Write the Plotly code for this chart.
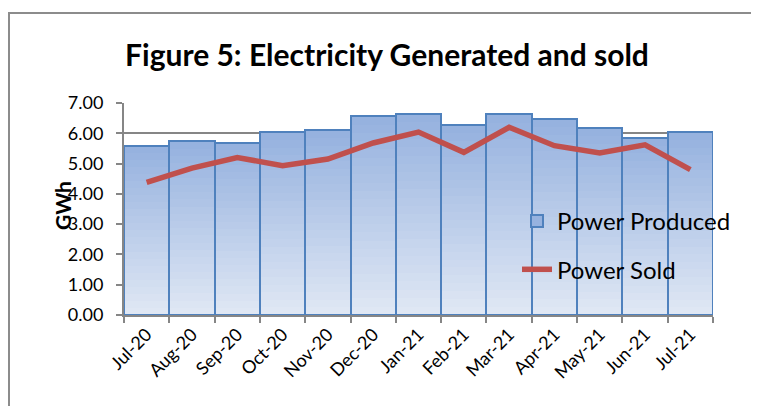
import plotly.graph_objects as go

months = ["Jul-20", "Aug-20", "Sep-20", "Oct-20", "Nov-20", "Dec-20", "Jan-21",
          "Feb-21", "Mar-21", "Apr-21", "May-21", "Jun-21", "Jul-21"]
power_produced = [5.59, 5.73, 5.67, 6.03, 6.10, 6.56, 6.65, 6.28, 6.63, 6.48, 6.16, 5.83, 6.03]
power_sold = [4.38, 4.85, 5.20, 4.93, 5.15, 5.68, 6.04, 5.37, 6.20, 5.59, 5.35, 5.62, 4.80]
y_ticks = [0, 1, 2, 3, 4, 5, 6, 7]

W, H = 759, 406
O = 8  # page body margin
# plot area in page pixels: x 124..713, y 103..315
L = 124 - O
T = 103 - O
R = W - (713 - O)
B = H - (315 - O)
pw = W - L - R
ph = H - T - B


def px(x):
    return (x - O - L) / pw


def py(y):
    return (H - B - (y - O)) / ph


top_c = (150, 178, 223)
bot_c = (223, 231, 244)
N = 24

fig = go.Figure()
for k in range(N):
    f = 1 - k / N
    t = k / (N - 1)
    c = tuple(round(top_c[i] + (bot_c[i] - top_c[i]) * t) for i in range(3))
    fig.add_trace(go.Bar(
        x=months, y=[v * f for v in power_produced],
        marker=dict(color="rgb(%d,%d,%d)" % c,
                    line=dict(width=2 if k == 0 else 0, color="#4F81BD")),
        name="Power Produced", showlegend=(k == 0), legendgroup="a",
        hoverinfo="skip" if k else None,
    ))
fig.add_trace(go.Bar(
    x=months, y=power_produced,
    marker=dict(color="rgba(0,0,0,0)", line=dict(width=2, color="#4F81BD")),
    showlegend=False, hoverinfo="skip",
))
fig.add_trace(go.Scatter(
    x=months, y=power_sold, mode="lines", name="Power Sold", legendgroup="b",
    line=dict(color="#C0504D", width=5.5),
))

fig.add_shape(type="rect", xref="paper", yref="paper",
              x0=px(9), x1=px(W + 30), y0=py(H + 30), y1=py(13),
              line=dict(color="#8C8C8C", width=2), layer="below")

fig.add_annotation(text="<b>GWh</b>", textangle=-90, showarrow=False,
                   xref="paper", yref="paper", x=px(62), y=py(206),
                   xanchor="center", yanchor="middle",
                   font=dict(size=21, color="black"))

fig.update_layout(
    width=W, height=H,
    margin=dict(l=L, r=R, t=T, b=B, autoexpand=False),
    paper_bgcolor="white", plot_bgcolor="white",
    barmode="overlay", bargap=0,
    font=dict(family="Lato, Carlito, sans-serif", color="black"),
    title=dict(text="<b>Figure 5: Electricity Generated and sold</b>",
               x=(387 - O) / W, xanchor="center", y=1 - (55 - O) / H, yanchor="middle",
               font=dict(size=30, family="Lato, sans-serif", color="black")),
    legend=dict(x=px(517), xanchor="left", y=py(199), yanchor="top",
                bgcolor="rgba(0,0,0,0)", font=dict(size=24), tracegroupgap=14,
                traceorder="grouped"),
    showlegend=True,
)
fig.update_xaxes(type="category", tickangle=-45, tickfont=dict(size=18),
                 showline=True, linecolor="#868686", linewidth=2,
                 ticks="outside", ticklen=6, tickcolor="#868686", tickwidth=2,
                 tickson="boundaries", showgrid=False, range=[-0.5, 12.5],
                 automargin=False)
fig.update_yaxes(range=[0, 7], tickvals=y_ticks, ticktext=["%.2f" % v for v in y_ticks],
                 tickfont=dict(size=18), showgrid=True, gridcolor="#868686", gridwidth=2,
                 showline=True, linecolor="#868686", linewidth=2,
                 ticks="outside", ticklen=6, tickcolor="#868686", tickwidth=2,
                 ticklabelstandoff=9,
                 zeroline=False, automargin=False)
fig.write_html("out.html")
